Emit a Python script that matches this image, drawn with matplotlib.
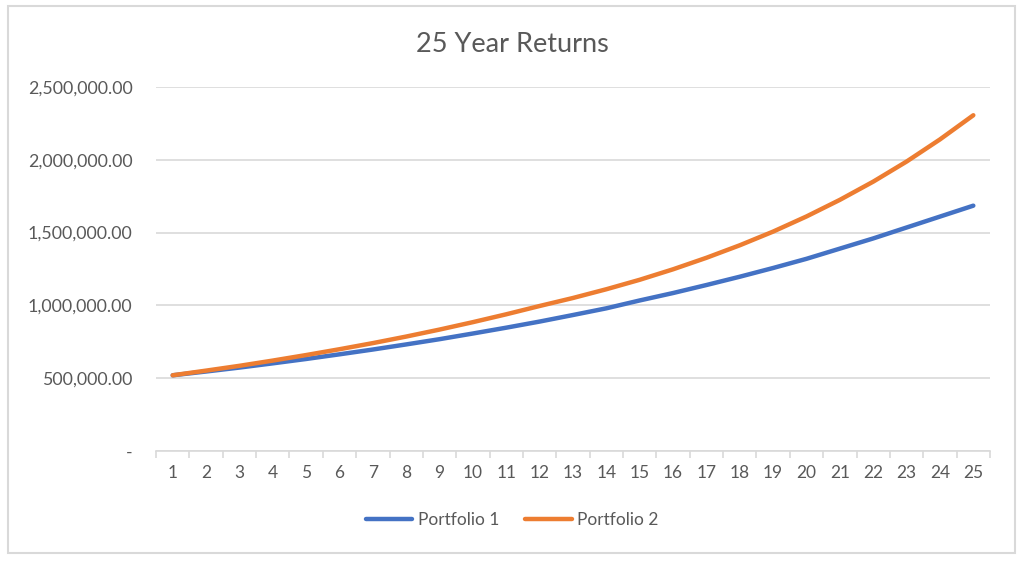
import matplotlib.pyplot as plt
from matplotlib.ticker import FuncFormatter, MultipleLocator
from matplotlib.patches import Rectangle

years = list(range(1, 26))
portfolio_1 = [520000, 546000, 573000, 602000, 632000, 664000, 697000, 732000,
               768000, 807000, 847000, 889000, 934000, 980000, 1034000, 1085000,
               1140000, 1197000, 1257000, 1320000, 1390000, 1460000, 1535000,
               1610000, 1685000]
portfolio_2 = [520000, 552000, 585000, 621000, 659000, 699000, 741000, 786000,
               834000, 885000, 939000, 996000, 1051000, 1111000, 1176000, 1248000,
               1327000, 1413000, 1507000, 1611000, 1725000, 1850000, 1988000,
               2140000, 2306000]

BLUE = "#4472C4"
ORANGE = "#ED7D31"
TEXT = "#595959"
GRID = "#D9D9D9"

plt.rcParams["font.family"] = ["Lato", "DejaVu Sans"]

fig = plt.figure(figsize=(10.24, 5.63), dpi=100)
fig.patches.append(Rectangle((8 / 1024, 1 - 553 / 563), 1007 / 1024, 547 / 563,
                             transform=fig.transFigure, fill=False,
                             edgecolor=GRID, linewidth=1.5))

ax = fig.add_axes([156 / 1024, 1 - 451 / 563, 834 / 1024, 364 / 563])
ax.plot(years, portfolio_1, color=BLUE, linewidth=3.2, label="Portfolio 1",
        solid_capstyle="round")
ax.plot(years, portfolio_2, color=ORANGE, linewidth=3.2, label="Portfolio 2",
        solid_capstyle="round")

ax.set_xlim(0.5, 25.5)
ax.set_ylim(0, 2500000)
ax.yaxis.set_major_locator(MultipleLocator(500000))
ax.yaxis.set_major_formatter(FuncFormatter(lambda v, p: "-" if v == 0 else f"{v:,.2f}"))
ax.set_xticks(years)
ax.set_xticks([y + 0.5 for y in range(0, 26)], minor=True)
ax.grid(axis="y", color=GRID, linewidth=1.2)
ax.set_axisbelow(True)

for s in ["top", "right", "left"]:
    ax.spines[s].set_visible(False)
ax.spines["bottom"].set_color(GRID)
ax.spines["bottom"].set_linewidth(1.2)

ax.tick_params(axis="y", length=0, pad=17, labelsize=12.8, labelcolor=TEXT)
ax.tick_params(axis="x", which="major", length=0, pad=10, labelsize=12.5, labelcolor=TEXT)
ax.tick_params(axis="x", which="minor", length=5, width=1.2, color=GRID)

fig.text(0.5, 1 - 44 / 563, "25 Year Returns", ha="center", va="center",
         fontsize=19.5, color=TEXT)

fig.legend(loc="center", bbox_to_anchor=(0.5, 1 - 520 / 563), ncol=2,
           frameon=False, fontsize=12.5, labelcolor=TEXT, handlelength=2.7,
           handletextpad=0.3, columnspacing=1.5)

fig.savefig("out.png", dpi=100)
